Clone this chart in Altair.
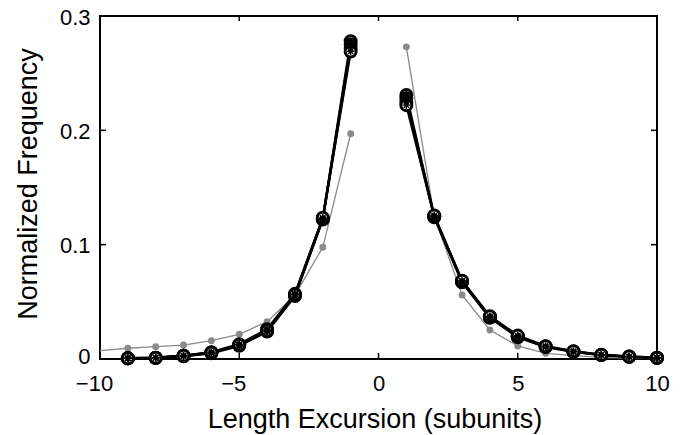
import altair as alt
import pandas as pd

# ---- data ----
x_left = [-9, -8, -7, -6, -5, -4, -3, -2, -1]
x_right = [1, 2, 3, 4, 5, 6, 7, 8, 9, 10]

black_left = {
    "s1": [0.0006, 0.0010, 0.0026, 0.0055, 0.0122, 0.0245, 0.0560, 0.1225, 0.278],
    "s2": [0.0008, 0.0012, 0.0030, 0.0060, 0.0130, 0.0260, 0.0570, 0.1230, 0.275],
    "s3": [0.0005, 0.0009, 0.0024, 0.0050, 0.0115, 0.0240, 0.0550, 0.1220, 0.272],
    "s4": [0.0007, 0.0011, 0.0028, 0.0058, 0.0125, 0.0250, 0.0565, 0.1235, 0.269],
}
black_right = {
    "s1": [0.231, 0.1245, 0.0677, 0.0365, 0.0195, 0.0108, 0.0064, 0.0035, 0.0020, 0.0010],
    "s2": [0.228, 0.1250, 0.0680, 0.0370, 0.0200, 0.0110, 0.0066, 0.0036, 0.0021, 0.0011],
    "s3": [0.225, 0.1240, 0.0670, 0.0360, 0.0190, 0.0105, 0.0062, 0.0034, 0.0019, 0.0009],
    "s4": [0.222, 0.1255, 0.0685, 0.0375, 0.0205, 0.0112, 0.0068, 0.0037, 0.0022, 0.0012],
}

gray_x_left = [-10, -9, -8, -7, -6, -5, -4, -3, -2, -1]
gray_left = [0.0073, 0.0094, 0.0108, 0.0122, 0.0160, 0.0216, 0.0327, 0.0560, 0.0977, 0.197]
gray_right = [0.273, 0.125, 0.056, 0.0254, 0.0114, 0.0050, 0.0030, 0.0015, 0.0008, 0.0003]

x_ticks = [-10, -5, 0, 5, 10]
y_ticks = [0, 0.1, 0.2, 0.3]

# ---- tables ----
rows = []
for s in black_left:
    for xv, yv in zip(x_left, black_left[s]):
        rows.append({"x": xv, "y": yv, "series": s, "side": "L"})
    for xv, yv in zip(x_right, black_right[s]):
        rows.append({"x": xv, "y": yv, "series": s, "side": "R"})
black = pd.DataFrame(rows)

grows = []
for xv, yv in zip(gray_x_left, gray_left):
    grows.append({"x": xv, "y": yv, "side": "L"})
for xv, yv in zip(x_right, gray_right):
    grows.append({"x": xv, "y": yv, "side": "R"})
gray = pd.DataFrame(grows)
gray_pts = gray[gray["x"] > -10]

FONT = "Liberation Sans"
W, H = 557, 343

xs = alt.Scale(domain=[-10, 10], nice=False, zero=False)
ys = alt.Scale(domain=[0, 0.3], nice=False, zero=False)

x_axis = alt.Axis(
    values=x_ticks, title="Length Excursion (subunits)", grid=False, domain=False,
    ticks=False, tickSize=0, labelFontSize=22, labelFont=FONT, labelColor="black",
    labelPadding=31, labelBaseline="alphabetic", labelFlush=False,
    labelOffset=alt.condition("datum.value < 0", alt.value(-6), alt.value(0)),
    titleFont=FONT, titleFontSize=27, titleFontWeight="normal", titleColor="black",
    titleBaseline="alphabetic", titleY=68, titleX=W / 2 - 4,
)
y_axis = alt.Axis(
    values=y_ticks, title="Normalized Frequency", grid=False, domain=False,
    ticks=False, tickSize=0, labelFontSize=22, labelFont=FONT, labelColor="black",
    labelPadding=10, labelBaseline="middle", labelFlush=False,
    labelOffset=alt.condition("datum.value == 0", alt.value(-3), alt.value(1)),
    format=".1~f",
    titleFont=FONT, titleFontSize=27, titleFontWeight="normal", titleColor="black",
    titleAngle=-90, titleAlign="center", titleBaseline="middle", titleX=-72, titleY=H / 2 - 4,
)


def X(field):
    return alt.X(field, scale=xs, axis=x_axis)


def Y(field):
    return alt.Y(field, scale=ys, axis=y_axis)


xt = pd.DataFrame({"t": x_ticks})
yt = pd.DataFrame({"t": y_ticks})

tick_bottom = alt.Chart(xt).mark_rule(color="black", strokeWidth=1.5).encode(
    x=X("t:Q"), y=alt.value(H), y2=alt.value(H - 6))
tick_top = alt.Chart(xt).mark_rule(color="black", strokeWidth=1.5).encode(
    x=X("t:Q"), y=alt.value(0), y2=alt.value(5))
tick_left = alt.Chart(yt).mark_rule(color="black", strokeWidth=1.5).encode(
    y=Y("t:Q"), x=alt.value(0), x2=alt.value(6))
tick_right = alt.Chart(yt).mark_rule(color="black", strokeWidth=1.5).encode(
    y=Y("t:Q"), x=alt.value(W), x2=alt.value(W - 6))

gray_line = alt.Chart(gray).mark_line(color="#8a8a8a", strokeWidth=1.3).encode(
    x=X("x:Q"), y=Y("y:Q"), detail="side:N")
gray_dots = alt.Chart(gray_pts).mark_point(
    shape="circle", filled=True, color="#8a8a8a", size=48, opacity=1, clip=False
).encode(x=X("x:Q"), y=Y("y:Q"))

black_line = alt.Chart(black).mark_line(color="black", strokeWidth=2.4).encode(
    x=X("x:Q"), y=Y("y:Q"), detail=["series:N", "side:N"])
black_circ = alt.Chart(black).mark_point(
    shape="circle", filled=False, fill="white", fillOpacity=1, stroke="black",
    strokeWidth=3, size=120, opacity=1, clip=False
).encode(x=X("x:Q"), y=Y("y:Q"))
black_star = alt.Chart(black).mark_point(
    shape="M-1,0L1,0M0,-1L0,1M-0.7,-0.7L0.7,0.7M-0.7,0.7L0.7,-0.7",
    filled=False, stroke="black", strokeWidth=1.3, size=55, opacity=1, clip=False
).encode(x=X("x:Q"), y=Y("y:Q"))

chart = alt.layer(
    gray_line, gray_dots, black_line, black_circ, black_star,
    tick_bottom, tick_top, tick_left, tick_right,
).properties(
    width=W, height=H,
    autosize=alt.AutoSizeParams(type="none"),
    padding={"left": 100, "top": 16, "right": 29, "bottom": 76},
    background="white",
).configure_view(stroke="black", strokeWidth=2)

chart.save("out.html", embed_options={"renderer": "svg", "actions": False})
